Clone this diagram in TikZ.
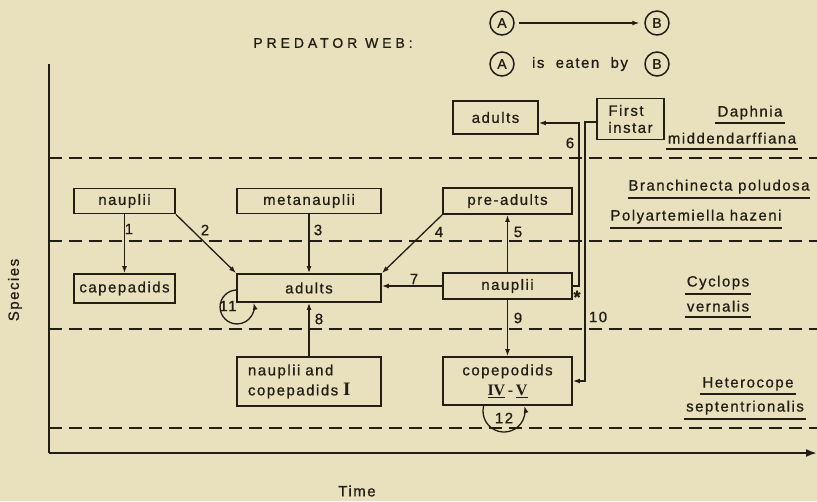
\documentclass[tikz,border=0pt]{standalone}
\usepackage{fontspec}
\setmainfont{Liberation Sans}[LetterSpace=10,FakeBold=0.8]
\newfontfamily\romanfont{Liberation Serif}
\usetikzlibrary{arrows.meta,calc}
\definecolor{bg}{RGB}{233,225,190}
\definecolor{ink}{RGB}{35,30,20}
\begin{document}
\begin{tikzpicture}[x=1pt,y=-1pt,
  every node/.style={text=ink},
  box/.style={draw=ink, line width=1.9pt, inner sep=0pt, font=\fontsize{15}{18}\selectfont},
  arr/.style={draw=ink, line width=1.3pt, -{Latex[length=7pt,width=5pt]}},
  num/.style={inner sep=0pt, font=\fontsize{15}{17}\selectfont},
  sp/.style={inner sep=0pt, text height=11pt, text depth=4pt, font=\fontsize{15}{17}\selectfont},
  ul/.style={draw=ink, line width=1.7pt},
  bandline/.style={draw=ink, line width=1.4pt, dash pattern=on 13pt off 7pt},
  leg/.style={draw=ink, circle, line width=1.5pt, minimum size=24pt, inner sep=0pt, font=\fontsize{14}{16}\selectfont}
]
\fill[bg] (0,0) rectangle (817,501);
\useasboundingbox (0,0) rectangle (817,501);

% legend
\node[leg] (la) at (502,23) {A};
\node[leg] (lb) at (657,23) {B};
\draw[arr, shorten <=4pt, shorten >=5pt] (la) -- (lb);
\node[leg] (la2) at (502,64) {A};
\node[leg] (lb2) at (657,64) {B};
\node[sp, text height=, text depth=] (eat) at (580,64) {is\ \ eaten\ \ by};

\node[inner sep=0pt, font=\fontsize{14}{16}\selectfont\addfontfeatures{LetterSpace=28}] (title) at (333,43) {PREDATOR WEB:};

% axes
\coordinate (org) at (49,453);
\coordinate (ytop) at (49,64);
\coordinate (xend) at (817,453);
\draw[draw=ink, line width=1.9pt] (ytop) -- (org);
\draw[draw=ink, line width=1.9pt, -{Latex[length=11pt,width=8pt]}] (org) -- (xend);
\node[inner sep=0pt, rotate=90, font=\fontsize{15}{17}\selectfont] (species) at (15,290) {Species};
\node[inner sep=0pt, font=\fontsize{15}{17}\selectfont] (time) at (357,491) {Time};

% dashed band lines
\coordinate (d1a) at (49,158); \coordinate (d1b) at (817,158);
\coordinate (d2a) at (49,241); \coordinate (d2b) at (817,241);
\coordinate (d3a) at (49,329); \coordinate (d3b) at (817,329);
\coordinate (d4a) at (49,428); \coordinate (d4b) at (817,428);
\draw[bandline] (d1a) -- (d1b);
\draw[bandline] (d2a) -- (d2b);
\draw[bandline] (d3a) -- (d3b);
\draw[bandline] (d4a) -- (d4b);

% boxes
\node[box, minimum width=101pt, minimum height=25pt] (nL) at (124.5,201) {nauplii};
\node[box, minimum width=144pt, minimum height=25pt] (meta) at (309,201) {metanauplii};
\node[box, minimum width=101pt, minimum height=29pt] (cap) at (124.5,288.5) {capepadids};
\node[box, minimum width=144pt, minimum height=28pt] (adC) at (309,288) {adults};
\node[box, minimum width=129pt, minimum height=26pt] (pre) at (507.5,201) {pre-adults};
\node[box, minimum width=129pt, minimum height=26pt] (nR) at (507.5,286) {nauplii};
\node[box, minimum width=85pt, minimum height=33pt] (adT) at (495.5,117.5) {adults};
\node[box, minimum width=67pt, minimum height=41pt, align=left, font=\fontsize{15}{17}\selectfont] (fi) at (630.5,119) {First\\instar};
\node[box, minimum width=144pt, minimum height=49pt, align=left, text width=122pt, font=\fontsize{15}{20}\selectfont] (ncI) at (309,381.5) {nauplii and\\copepadids {\romanfont\bfseries\fontsize{19}{20}\selectfont I}};
\node[box, minimum width=129pt, minimum height=48pt, align=center, font=\fontsize{15}{20}\selectfont] (cop) at (507.5,381) {copepodids\\{\romanfont\bfseries\fontsize{16}{20}\selectfont\underline{IV}\,-\,\underline{V}}};

% connectors
\draw[arr] (nL) -- (cap);
\draw[arr] (nL.south east) -- (adC.north west);
\draw[arr] (meta) -- (adC);
\draw[arr] (pre.south west) -- (adC.north east);
\draw[arr] (nR) -- (pre);
\draw[arr] (nR.west) -- (nR.west -| adC.east);
\draw[arr] (ncI) -- (adC);
\draw[arr] (nR) -- (cop);
\coordinate (c6) at (579,123);
\draw[arr] (nR.east) -| (c6) -- (c6 -| adT.east);
\coordinate (c10) at (585,122);
\draw[arr] (fi.west |- c10) -- (c10) |- (cop.east);
\draw[arr] ($(adC.south west)+(1,-13)$) arc[start angle=270, end angle=-14, radius=17];
\draw[arr] ($(cop.south)+(-23.9,0)$) arc[start angle=194, end angle=-14, radius=21];

% labels
\node[num] (l1) at (129,229) {1};
\node[num] (l2) at (205,230) {2};
\node[num] (l3) at (318,230) {3};
\node[num] (l4) at (439,232) {4};
\node[num] (l5) at (518,232) {5};
\node[num] (l6) at (570,143) {6};
\node[num] (l7) at (414,279) {7};
\node[num] (l8) at (319,319) {8};
\node[num] (l9) at (518,318) {9};
\node[num] (l10) at (598,317) {10};
\node[num] (l11) at (228,306) {11};
\node[num] (l12) at (504,418) {12};
\node[num, font=\fontsize{18}{18}\selectfont\bfseries] (star) at (577,297) {*};

% species labels
\node[sp] (s1) at (750,113) {Daphnia};
\draw[ul] ($(s1.south west)+(-2,2.5)$) -- ($(s1.south east)+(2,2.5)$);
\node[sp] (s2) at (732,140) {middendarffiana};
\draw[ul] ($(s2.south west)+(-2,1.5)$) -- ($(s2.south east)+(2,1.5)$);
\node[sp] (s3) at (719,187) {Branchinecta poludosa};
\draw[ul] ($(s3.south west)+(0,3.5)$) -- ($(s3.south east)+(0,3.5)$);
\node[sp] (s4) at (696,217) {Polyartemiella hazeni};
\draw[ul] ($(s4.south west)+(0,3.5)$) -- ($(s4.south east)+(0,3.5)$);
\node[sp] (s5) at (718,283) {Cyclops};
\draw[ul] ($(s5.south west)+(-2,3.5)$) -- ($(s5.south east)+(2,3.5)$);
\node[sp] (s6) at (718,308) {vernalis};
\draw[ul] ($(s6.south west)+(-2,1.5)$) -- ($(s6.south east)+(2,1.5)$);
\node[sp] (s7) at (748,384) {Heterocope};
\draw[ul] ($(s7.south west)+(-2,2.5)$) -- ($(s7.south east)+(2,2.5)$);
\node[sp] (s8) at (745,408) {septentrionalis};
\draw[ul] ($(s8.south west)+(-2,3.5)$) -- ($(s8.south east)+(2,3.5)$);
\end{tikzpicture}
\end{document}
